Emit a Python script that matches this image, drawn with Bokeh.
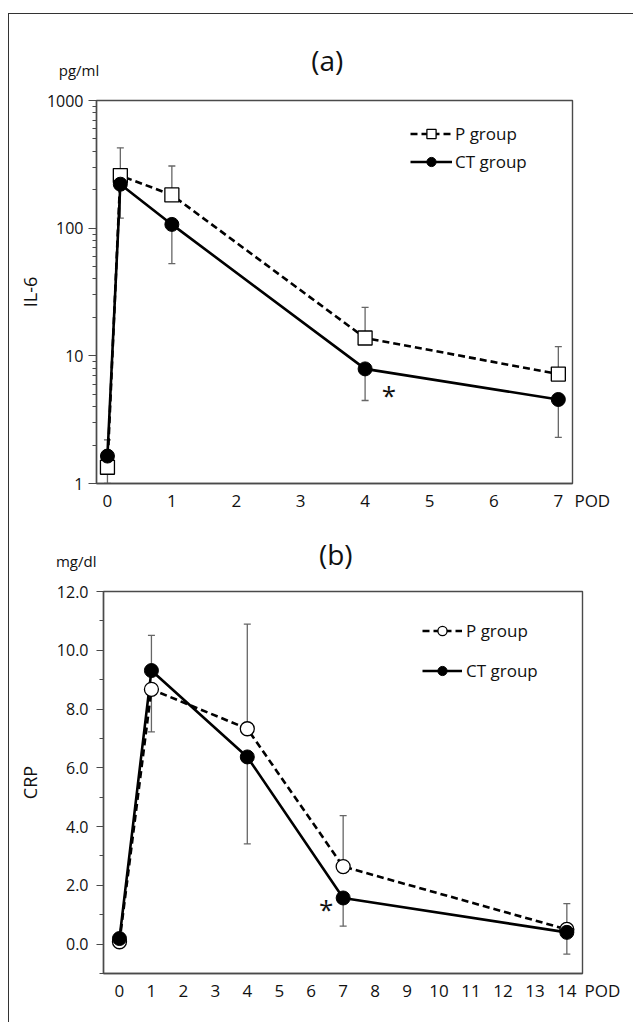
from bokeh.plotting import figure
from bokeh.models import (Range1d, FixedTicker, Legend, LegendItem, Whisker, TeeHead,
                          Label, LinearAxis, ColumnDataSource, PrintfTickFormatter,
                          BasicTickFormatter)
from bokeh.embed import file_html
from bokeh.resources import INLINE

# ---------------- data ----------------
# (a) IL-6, pg/ml
pod_a = [0, 0.2, 1, 4, 7]
il6_p = [1.34, 258, 182, 13.8, 7.2]
il6_ct = [1.64, 221, 107, 7.9, 4.55]
il6_p_hi = [1.34, 426, 307, 24, 11.8]
il6_p_lo = [1.0, 258, 182, 13.8, 7.2]
il6_ct_hi = [2.2, 221, 107, 7.9, 4.55]
il6_ct_lo = [1.64, 120, 52.8, 4.47, 2.3]
ticks_a_x = [0, 1, 2, 3, 4, 5, 6, 7]
ticks_a_y = [1, 10, 100, 1000]

# (b) CRP, mg/dl
pod_b = [0, 1, 4, 7, 14]
crp_p = [0.08, 8.67, 7.33, 2.64, 0.5]
crp_ct = [0.19, 9.31, 6.37, 1.57, 0.40]
crp_p_hi = [0.08, 8.67, 10.89, 4.37, 1.38]
crp_p_lo = [0.08, 7.22, 7.33, 2.64, 0.5]
crp_ct_hi = [0.19, 10.51, 6.37, 1.57, 0.40]
crp_ct_lo = [0.19, 9.31, 3.41, 0.61, -0.34]
ticks_b_x = list(range(0, 15))
ticks_b_y = [0, 2, 4, 6, 8, 10, 12]
minor_b_y = [-1, 1, 3, 5, 7, 9, 11]

FONT = "Open Sans"
AX = "#4a4a4a"
ERR = "#666666"
TXT = "#111111"
NB = "\u00a0"
BORDER = "1px solid #333333"


def style_axes(p):
    p.outline_line_color = AX
    p.outline_line_width = 1.4
    p.background_fill_color = "white"
    p.border_fill_color = "white"
    p.grid.visible = False
    for ax in (p.xaxis[0], p.yaxis[0]):
        ax.axis_line_color = AX
        ax.axis_line_width = 1.4
        ax.major_tick_line_color = AX
        ax.minor_tick_line_color = AX
        ax.major_tick_line_width = 1.2
        ax.minor_tick_line_width = 1.2
        ax.major_label_text_font = FONT
        ax.major_label_text_color = TXT
        ax.axis_label_text_font = FONT
        ax.axis_label_text_font_size = "18px"
        ax.axis_label_text_font_style = "normal"
        ax.axis_label_text_color = TXT
    p.xaxis.major_label_text_font_size = "17px"
    p.yaxis.major_label_text_font_size = "16px"
    p.xaxis.major_tick_out = 0
    p.xaxis.major_tick_in = 0
    p.xaxis.minor_tick_out = 0
    p.xaxis.minor_tick_in = 0
    p.yaxis.major_tick_in = 0
    p.yaxis.minor_tick_in = 0


def top_axis(p, tick, unit, pad, panel, panel_standoff):
    ax = LinearAxis(ticker=FixedTicker(ticks=[tick]),
                    major_label_overrides={tick: unit + NB * pad},
                    axis_line_color=None, major_tick_line_color=None,
                    minor_tick_line_color=None, major_tick_out=0, major_tick_in=0,
                    minor_tick_out=0, minor_tick_in=0,
                    major_label_standoff=21, major_label_text_font=FONT,
                    major_label_text_font_size="15px", major_label_text_color=TXT,
                    axis_label=panel + NB * 2, axis_label_standoff=panel_standoff,
                    axis_label_text_font=FONT, axis_label_text_font_size="28px",
                    axis_label_text_font_style="normal", axis_label_text_color=TXT)
    p.add_layout(ax, "above")


def whisk(p, x, hi, lo):
    src = ColumnDataSource(dict(x=x, hi=hi, lo=lo))
    w = Whisker(source=src, base="x", upper="hi", lower="lo", dimension="height",
                line_color=ERR, line_width=1.3, level="underlay",
                upper_head=TeeHead(size=7, line_color=ERR, line_width=1.3),
                lower_head=TeeHead(size=7, line_color=ERR, line_width=1.3))
    p.add_layout(w)


# ---------------- panel (a) ----------------
xa0, xa1 = -0.17, 7.22
pa = figure(frame_width=476, frame_height=383, min_border_left=87, min_border_top=86,
            min_border_right=61, min_border_bottom=36, y_axis_type="log",
            x_range=Range1d(xa0, xa1), y_range=Range1d(1, 1000),
            output_backend="svg", toolbar_location=None,
            margin=(13, 0, 0, 8), styles={"border-top": BORDER, "border-left": BORDER})
style_axes(pa)
pod_tick_a = xa1 - 0.001
pa.xaxis.ticker = FixedTicker(ticks=ticks_a_x + [pod_tick_a])
pa.xaxis.major_label_overrides = {pod_tick_a: NB * 9 + "POD"}
pa.xaxis.major_label_standoff = 5
minor_a = [m * d for d in (1, 10, 100) for m in range(2, 10)]
pa.yaxis.ticker = FixedTicker(ticks=ticks_a_y, minor_ticks=minor_a)
pa.yaxis.formatter = BasicTickFormatter()
pa.yaxis.major_label_overrides = {1: "1", 10: "10", 100: "100", 1000: "1000"}
pa.yaxis.major_tick_out = 8
pa.yaxis.minor_tick_out = 4
pa.yaxis.major_label_standoff = 5
pa.yaxis.axis_label = "IL-6"
pa.yaxis.axis_label_standoff = 2
top_axis(pa, xa0, "pg/ml", 9, "(a)", -22)

whisk(pa, pod_a, il6_p_hi, il6_p_lo)
whisk(pa, pod_a, il6_ct_hi, il6_ct_lo)

la_p = pa.line(pod_a, il6_p, line_color="black", line_width=2.6, line_dash="7 4")
la_ct = pa.line(pod_a, il6_ct, line_color="black", line_width=2.6)
ma_p = pa.scatter(pod_a, il6_p, marker="square", size=14, fill_color="white",
                  line_color="black", line_width=1.3)
ma_ct = pa.scatter(pod_a, il6_ct, marker="circle", size=14, fill_color="black",
                   line_color="black")

leg_a = Legend(items=[LegendItem(label="P group", renderers=[la_p, ma_p]),
                      LegendItem(label="CT group", renderers=[la_ct, ma_ct])],
               location=(314, 310), glyph_width=42, glyph_height=23, label_height=23,
               spacing=5, padding=0, margin=0, label_standoff=3,
               border_line_color=None, background_fill_alpha=0,
               label_text_font=FONT, label_text_font_size="17px", label_text_color=TXT)
pa.add_layout(leg_a)
pa.add_layout(Label(x=4.37, y=4.9, text="*", text_align="center", text_baseline="alphabetic",
                    text_font=FONT, text_font_size="26px", text_color=TXT))

# ---------------- panel (b) ----------------
xb0, xb1 = -0.5, 14.49
pb = figure(frame_width=479, frame_height=382, min_border_left=94, min_border_top=72,
            min_border_right=51, min_border_bottom=49,
            x_range=Range1d(xb0, xb1), y_range=Range1d(-1, 12),
            output_backend="svg", toolbar_location=None,
            margin=(0, 0, 0, 8), styles={"border-left": BORDER})
style_axes(pb)
pod_tick_b = xb1 - 0.001
pb.xaxis.ticker = FixedTicker(ticks=ticks_b_x + [pod_tick_b])
pb.xaxis.major_label_overrides = {pod_tick_b: NB * 9 + "POD"}
pb.xaxis.major_label_standoff = 5
pb.yaxis.ticker = FixedTicker(ticks=ticks_b_y, minor_ticks=minor_b_y)
pb.yaxis.formatter = PrintfTickFormatter(format="%.1f")
pb.yaxis.major_tick_out = 7
pb.yaxis.minor_tick_out = 4
pb.yaxis.major_label_standoff = 8
pb.yaxis.axis_label = "CRP"
pb.yaxis.axis_label_standoff = 12
top_axis(pb, xb0, "mg/dl", 14, "(b)", -25)

whisk(pb, pod_b, crp_p_hi, crp_p_lo)
whisk(pb, pod_b, crp_ct_hi, crp_ct_lo)

lb_p = pb.line(pod_b, crp_p, line_color="black", line_width=2.6, line_dash="7 4")
lb_ct = pb.line(pod_b, crp_ct, line_color="black", line_width=2.6)
mb_p = pb.scatter(pod_b, crp_p, marker="circle", size=14, fill_color="white",
                  line_color="black", line_width=1.3)
mb_ct = pb.scatter(pod_b, crp_ct, marker="circle", size=14, fill_color="black",
                   line_color="black")

leg_b = Legend(items=[LegendItem(label="P group", renderers=[lb_p, mb_p]),
                      LegendItem(label="CT group", renderers=[lb_ct, mb_ct])],
               location=(319, 291), glyph_width=40, glyph_height=23, label_height=23,
               spacing=17, padding=0, margin=0, label_standoff=4,
               border_line_color=None, background_fill_alpha=0,
               label_text_font=FONT, label_text_font_size="17px", label_text_color=TXT)
pb.add_layout(leg_b)
pb.add_layout(Label(x=6.47, y=1.2, text="*", text_align="center", text_baseline="alphabetic",
                    text_font=FONT, text_font_size="26px", text_color=TXT))

p = [pa, pb]
open("out.html", "w").write(file_html(p, INLINE))
